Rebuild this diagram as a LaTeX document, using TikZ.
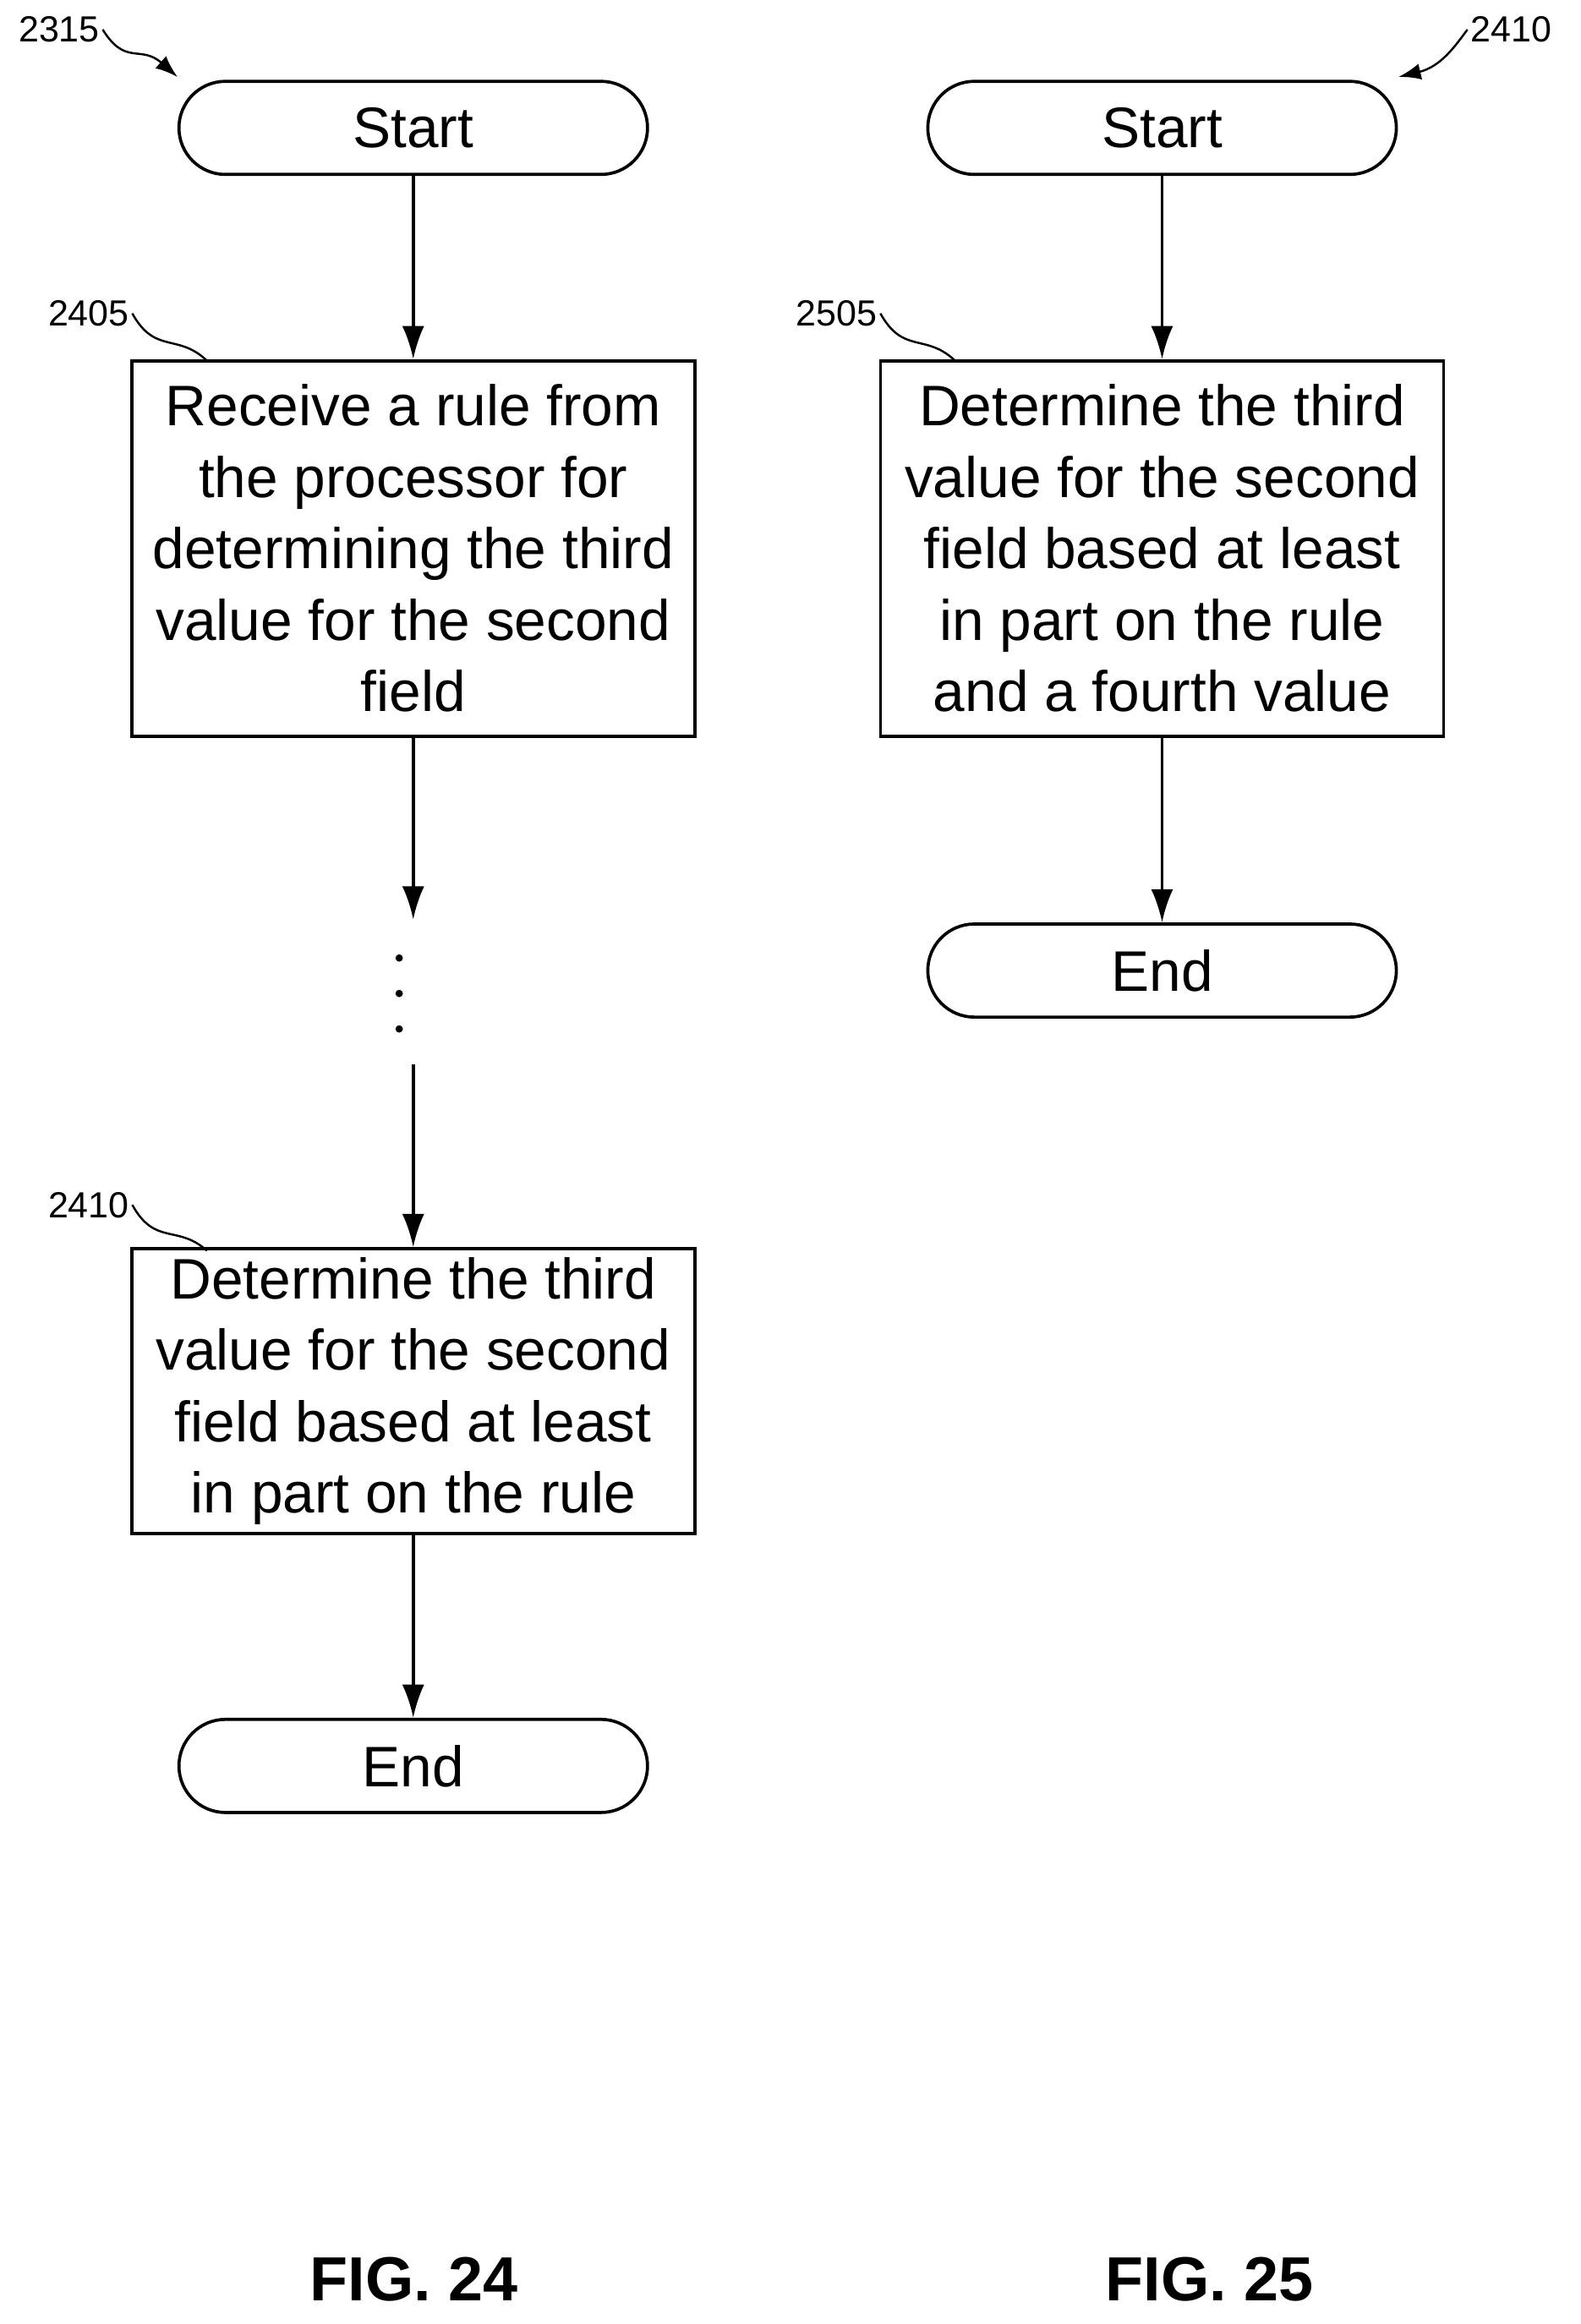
\documentclass[tikz,border=0pt]{standalone}
\usepackage{fontspec}
\setmainfont{Liberation Sans}
\usetikzlibrary{arrows.meta}
\tikzset{
  procbox/.style={draw, line width=1.2pt, minimum width=7.62cm, minimum height=5.08cm, align=center, font=\fontsize{22}{27.5}\selectfont},
  term/.style={draw, line width=1.2pt, rounded corners=0.63cm, minimum width=6.34cm, minimum height=1.26cm, font=\fontsize{22}{26}\selectfont},
  flow/.style={line width=1.2pt, -{Latex[length=0.45cm, width=0.3cm]}},
  refnum/.style={font=\fontsize{14}{16}\selectfont, inner sep=1pt},
  squig/.style={line width=0.8pt},
  dot/.style={fill, circle, inner sep=0pt, minimum size=0.1cm},
}
\begin{document}
\begin{tikzpicture}[x=0.02cm, y=-0.02cm]
				\useasboundingbox (0, 0) rectangle (1069, 1572);

				% FIG. 24
				\node[term] (startA) at (279.5, 86.5) {Start};
				\node[procbox] (rcv) at (279.5, 371) {Receive a rule from\\the processor for\\determining the third\\value for the second\\field};
				\node[procbox, minimum height=3.8cm] (detA) at (279.5, 941) {Determine the third\\value for the second\\field based at least\\in part on the rule};
				\node[term] (endA) at (279.5, 1194.5) {End};
				\foreach \y in {648, 672, 696}
					\node[dot] at (270, \y) {};
				\coordinate (gapA) at (279.5, 622);
				\coordinate (gapB) at (279.5, 720);
				\draw[flow] (startA) -- (rcv);
				\draw[flow] (rcv) -- (gapA);
				\draw[flow] (gapB) -- (detA);
				\draw[flow] (detA) -- (endA);
				\node[font=\bfseries\fontsize{24}{28}\selectfont] (figA) at (280, 1542) {FIG. 24};

				% FIG. 25
				\node[term] (startB) at (786, 86.5) {Start};
				\node[procbox] (detB) at (786, 371) {Determine the third\\value for the second\\field based at least\\in part on the rule\\and a fourth value};
				\node[term] (endB) at (786, 656.5) {End};
				\draw[flow] (startB) -- (detB);
				\draw[flow] (detB) -- (endB);
				\node[font=\bfseries\fontsize{24}{28}\selectfont] (figB) at (818, 1542) {FIG. 25};

				% reference numerals
				\node[refnum] (n2315) at (40, 20) {2315};
				\node[refnum] (n2410a) at (1022, 20) {2410};
				\node[refnum] (n2405) at (60, 212) {2405};
				\node[refnum] (n2410b) at (60, 815) {2410};
				\node[refnum] (n2505) at (566, 212) {2505};
				\draw[squig, -{Latex[length=0.3cm, width=0.22cm]}] (n2315.east) .. controls (85, 45) and (95, 30) .. (120, 52);
				\draw[squig, -{Latex[length=0.3cm, width=0.22cm]}] (n2410a.west) .. controls (985, 30) and (975, 45) .. (946, 52);
				\draw[squig] (n2405.east) .. controls (105, 240) and (120, 225) .. (140, 244);
				\draw[squig] (n2410b.east) .. controls (105, 843) and (120, 828) .. (140, 846);
				\draw[squig] (n2505.east) .. controls (611, 240) and (626, 225) .. (646, 244);
			\end{tikzpicture}
\end{document}
